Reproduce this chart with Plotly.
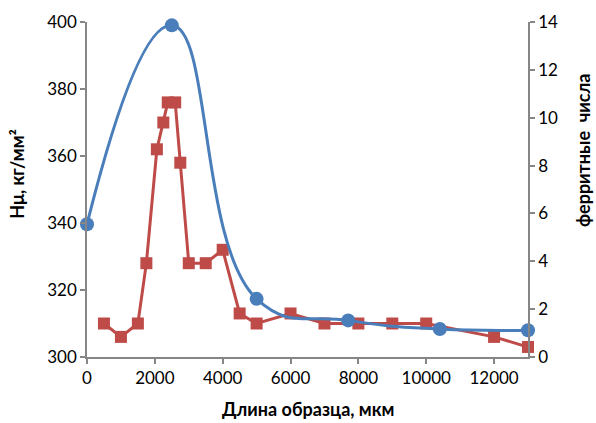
import plotly.graph_objects as go

# Microhardness profile (left axis), kg/mm^2
hv_x = [500, 1000, 1500, 1750, 2060, 2250, 2380, 2600, 2750, 3000, 3500, 4000,
        4500, 5000, 6000, 7000, 8000, 9000, 10000, 12000, 13000]
hv_y = [310, 306, 310, 328, 362, 370, 376, 376, 358, 328, 328, 332,
        313, 310, 313, 310, 310, 310, 310, 306, 303]

# Ferrite numbers (right axis)
fn_x = [0, 2500, 5000, 7700, 10400, 13000]
fn_y = [5.55, 13.86, 2.43, 1.53, 1.17, 1.12]

x_ticks = [0, 2000, 4000, 6000, 8000, 10000, 12000]
x_labels = ["0", "2000", "4000", "6000", "8000", "10000", "12000"]
left_ticks = [300, 320, 340, 360, 380, 400]
right_ticks = [0, 2, 4, 6, 8, 10, 12, 14]

BLUE = "#4A7EBB"
RED = "#BE4B48"
AXIS = "#868686"
FONT = "Lato"

fig = go.Figure()

fig.add_trace(go.Scatter(
    x=hv_x, y=hv_y, mode="lines+markers",
    line=dict(color=RED, width=3),
    marker=dict(symbol="square", size=12, color=RED),
    yaxis="y", showlegend=False, cliponaxis=False,
))

fig.add_trace(go.Scatter(
    x=fn_x, y=fn_y, mode="lines+markers",
    line=dict(color=BLUE, width=3, shape="spline", smoothing=1.3),
    marker=dict(symbol="circle", size=14, color=BLUE),
    yaxis="y2", showlegend=False, cliponaxis=False,
))

axis_common = dict(
    showgrid=False, zeroline=False, showline=True, linecolor=AXIS, linewidth=1.5,
    ticks="outside", ticklen=5, tickcolor=AXIS, tickwidth=1.5,
    tickfont=dict(family=FONT, size=17, color="#000000"),
)

fig.update_layout(
    width=596, height=423,
    margin=dict(l=87, r=68, t=22, b=66),
    paper_bgcolor="white", plot_bgcolor="white",
    xaxis=dict(range=[0, 13000], tickvals=x_ticks, ticktext=x_labels, **axis_common),
    yaxis=dict(range=[300, 400], tickvals=left_ticks, **axis_common),
    yaxis2=dict(range=[0, 14], tickvals=right_ticks, overlaying="y", side="right",
                **axis_common),
    annotations=[
        dict(text="Длина образца, мкм", xref="paper", yref="paper",
             x=0.5, y=-0.155, xanchor="center", yanchor="middle", showarrow=False,
             font=dict(family=FONT, size=18, color="#000000", weight="bold")),
        dict(text="Hμ, кг/мм²", xref="paper", yref="paper",
             x=-0.158, y=0.545, xanchor="center", yanchor="middle", showarrow=False,
             textangle=-90,
             font=dict(family=FONT, size=18, color="#000000", weight="bold")),
        dict(text="ферритные  числа", xref="paper", yref="paper",
             x=1.125, y=0.615, xanchor="center", yanchor="middle", showarrow=False,
             textangle=-90,
             font=dict(family=FONT, size=18, color="#000000", weight="bold")),
    ],
)

fig.write_html("out.html")
